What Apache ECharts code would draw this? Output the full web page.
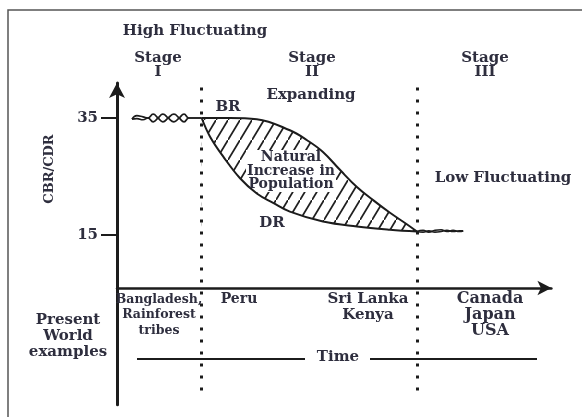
<!DOCTYPE html>
<html>
<head>
<meta charset="utf-8">
<script src="https://cdn.jsdelivr.net/npm/echarts@6/dist/echarts.min.js"></script>
<style>
html,body{margin:0;padding:0;background:#fff;}
#chart{width:582px;height:417px;}
</style>
</head>
<body>
<div id="chart"></div>
<script>
// ---- data (time in arbitrary units, rates per 1000) ----
const yTicks = [15, 35];
const stageBounds = [19.2, 68.0];

const brX = [19.2, 25.6, 31.7, 39.2, 43.1, 46.7, 50.6, 54.4, 58.0, 61.9, 65.8, 68.0];
const brY = [35, 35, 34.8, 32.9, 31.2, 29.2, 26.1, 23.2, 21.0, 18.8, 16.8, 15.6];

const drX = [19.2, 21.1, 24.1, 27.9, 31.7, 35.4, 39.2, 46.7, 54.4, 61.9, 68.0];
const drY = [35, 31.8, 28.4, 24.7, 22.1, 20.5, 19.0, 17.3, 16.45, 15.9, 15.6];

// Stage I: high fluctuating birth and death rates (intertwined)
const s1X  = [3.4, 4.5, 5.9, 7.0, 8.2, 9.3, 10.4, 11.6, 12.9, 14.1, 15.2, 16.3, 17.5, 19.2];
const s1BR = [34.8, 35.4, 35.2, 35.0, 35.65, 35.0, 34.35, 35.0, 35.65, 35.0, 34.35, 35.0, 35.0, 35.0];
const s1DR = [34.8, 34.9, 34.7, 35.0, 34.35, 35.0, 35.65, 35.0, 34.35, 35.0, 35.65, 35.0, 35.0, 35.0];

// Stage III: low fluctuating
const s3X  = [68.0, 69.4, 70.7, 72.1, 73.5, 74.8, 76.2, 77.6, 78.5];
const s3BR = [15.6, 15.8, 15.5, 15.8, 15.9, 15.6, 15.8, 15.6, 15.7];
const s3DR = [15.6, 15.5, 15.7, 15.5, 15.6, 15.8, 15.6, 15.7, 15.7];

const zip = (xs, ys) => xs.map((x, i) => [x, ys[i]]);

// hatch pattern
function hatch() {
  const w = 12, h = 20;
  const c = document.createElement('canvas');
  c.width = w; c.height = h;
  const g = c.getContext('2d');
  g.strokeStyle = '#1f1f1f';
  g.lineWidth = 1.7;
  g.beginPath();
  g.moveTo(-w, 2 * h); g.lineTo(2 * w, -h);
  g.stroke();
  return c;
}

const FONT = 'DejaVu Serif';
const TXT = '#2e2e3e';
function label(text, x, y, size, lh, extra) {
  return Object.assign({
    type: 'text', x: x, y: y, z: 100,
    style: {
      text: text, fill: TXT,
      font: 'bold ' + size + 'px "' + FONT + '"',
      align: 'center', verticalAlign: 'middle',
      textAlign: 'center', textVerticalAlign: 'middle',
      lineHeight: lh || size + 2
    }
  }, extra || {});
}

const chart = echarts.init(document.getElementById('chart'), null, {renderer: 'canvas'});
const lineCol = '#1c1c1c';

chart.setOption({
  backgroundColor: '#ffffff',
  animation: false,
  grid: {left: 117, top: 82.9, width: 434.4, height: 321.75, containLabel: false},
  xAxis: {
    type: 'value', min: 0, max: 98.5, offset: -116.65,
    axisLine: {show: true, onZero: false, symbol: ['none', 'arrow'], symbolSize: [11, 14],
      lineStyle: {color: lineCol, width: 2.5}},
    axisTick: {show: false}, axisLabel: {show: false}, splitLine: {show: false}
  },
  yAxis: {
    type: 'value', min: -14, max: 41,
    axisLine: {show: true, onZero: false, symbol: ['none', 'arrow'], symbolSize: [12, 15],
      lineStyle: {color: lineCol, width: 3}},
    axisTick: {show: true, customValues: yTicks, length: 16, lineStyle: {color: lineCol, width: 2}},
    axisLabel: {customValues: yTicks, margin: 19, fontFamily: FONT, fontWeight: 'bold', fontSize: 15, color: TXT},
    splitLine: {show: false}
  },
  series: [
    {
      name: 'Natural increase', type: 'line', data: zip(brX, brY), smooth: 0.4, showSymbol: false, z: 1,
      lineStyle: {width: 0},
      areaStyle: {color: {image: hatch(), repeat: 'repeat'}, origin: 15, opacity: 1},
      markLine: {
        silent: true, symbol: 'none', z: 6,
        lineStyle: {color: lineCol, width: 3, type: [3, 9]},
        label: {show: false},
        data: stageBounds.map(v => [{coord: [v, 40.2]}, {coord: [v, -12.9]}])
      }
    },
    {
      name: 'DR', type: 'line', data: zip(drX, drY), smooth: 0.4, showSymbol: false, z: 3,
      lineStyle: {color: lineCol, width: 2},
      areaStyle: {color: '#ffffff', origin: 15, opacity: 1}
    },
    {
      name: 'BR', type: 'line', data: zip(brX, brY), smooth: 0.4, showSymbol: false, z: 4,
      lineStyle: {color: lineCol, width: 2}
    },
    {name: 'BR I', type: 'line', data: zip(s1X, s1BR), smooth: 0.5, showSymbol: false, z: 4,
      lineStyle: {color: lineCol, width: 1.7}},
    {name: 'DR I', type: 'line', data: zip(s1X, s1DR), smooth: 0.5, showSymbol: false, z: 4,
      lineStyle: {color: lineCol, width: 1.7}},
    {name: 'BR III', type: 'line', data: zip(s3X, s3BR), smooth: 0.5, showSymbol: false, z: 4,
      lineStyle: {color: lineCol, width: 1.6}},
    {name: 'DR III', type: 'line', data: zip(s3X, s3DR), smooth: 0.5, showSymbol: false, z: 4,
      lineStyle: {color: lineCol, width: 1.6}}
  ],
  graphic: [
    {type: 'rect', shape: {x: 8, y: 10, width: 640, height: 460}, z: 0,
      style: {fill: 'none', stroke: '#555', lineWidth: 1.5}},
    {type: 'rect', shape: {x: 246, y: 150, width: 90, height: 42}, z: 2,
      style: {fill: '#ffffff'}},
    {type: 'line', shape: {x1: 137, y1: 359, x2: 305, y2: 359}, style: {stroke: lineCol, lineWidth: 2}},
    {type: 'line', shape: {x1: 370, y1: 359, x2: 537, y2: 359}, style: {stroke: lineCol, lineWidth: 2}},
    label('High Fluctuating', 195, 31, 15),
    label('Stage\nI', 158, 65, 15, 14),
    label('Stage\nII', 312, 65, 15, 14),
    label('Stage\nIII', 485, 65, 15, 14),
    label('Expanding', 311, 95, 15),
    label('BR', 228, 107, 15),
    label('Natural\nIncrease in\nPopulation', 291, 171, 14, 13.5),
    label('DR', 272, 223, 15),
    label('Low Fluctuating', 503, 178, 15),
    label('Bangladesh,\nRainforest\ntribes', 159, 315, 12.5, 15.5),
    label('Peru', 239, 299, 14),
    label('Present\nWorld\nexamples', 68, 336, 15, 16),
    label('Sri Lanka\nKenya', 368, 307.5, 15, 16),
    label('Canada\nJapan\nUSA', 490, 315, 16, 16),
    label('Time', 338, 357, 15),
    label('CBR/CDR', 50, 169, 13, null, {rotation: Math.PI / 2})
  ]
});
</script>
</body>
</html>
